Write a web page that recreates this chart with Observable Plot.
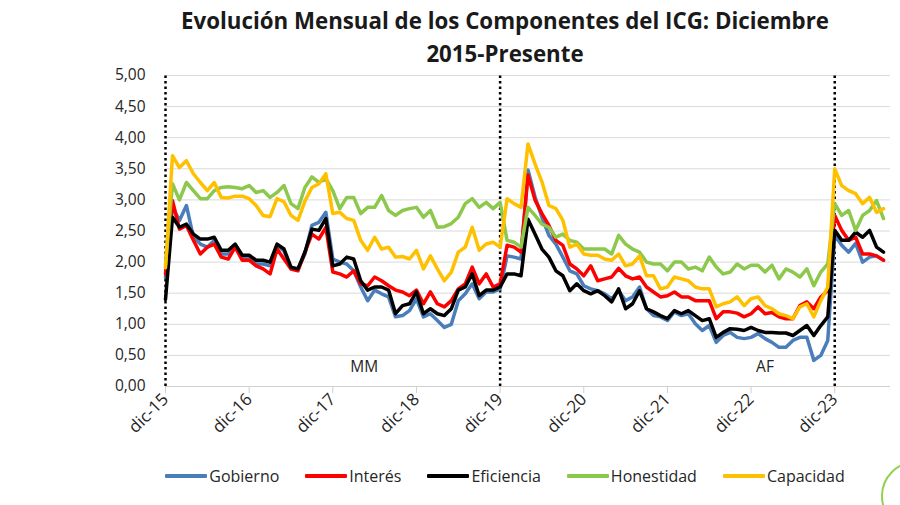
<!DOCTYPE html>
<html><head><meta charset="utf-8">
<script src="https://cdn.jsdelivr.net/npm/d3@7"></script>
<script src="https://cdn.jsdelivr.net/npm/@observablehq/plot@0.6"></script>
<style>
html,body{margin:0;padding:0;background:#fff;width:900px;height:505px;overflow:hidden;font-family:"Open Sans",Lato,sans-serif;}
#wrap{position:relative;width:900px;height:505px;overflow:hidden;}
#title{position:absolute;left:110px;top:4px;width:790px;text-align:center;font-weight:700;font-size:22.3px;line-height:33px;color:#1a1a1a;z-index:2;}
#chart{position:absolute;left:0;top:55px;}
#chart svg{overflow:visible;}
#legend{position:absolute;left:110px;width:790px;top:465px;display:flex;justify-content:center;gap:26px;font-size:16px;color:#262626;line-height:22px;}
.item{display:flex;align-items:center;}
.sw{width:42px;height:4px;margin-right:2px;border-radius:1px;}
#deco{position:absolute;left:881px;top:461px;width:66px;height:66px;border:2px solid #92D050;border-radius:50%;}
</style></head>
<body><div id="wrap">
<div id="chart"></div>
<div id="title">Evolución Mensual de los Componentes del ICG: Diciembre<br>2015-Presente</div>
<div id="legend"></div>
<div id="deco"></div>
</div>
<script>
const seriesNames = ["Gobierno","Interés","Eficiencia","Honestidad","Capacidad"];
const seriesColors = ["#4A7EBB","#FF0000","#000000","#8CC84B","#FFC000"];
const tickLabels = ["dic-15","dic-16","dic-17","dic-18","dic-19","dic-20","dic-21","dic-22","dic-23"];
const yTicks = [0,0.5,1,1.5,2,2.5,3,3.5,4,4.5,5];
const periodMarks = [0,48,96];
const periodLabels = [{label:"MM",i:28.5,v:0.32},{label:"AF",i:86,v:0.32}];

const gobierno = [1.75,2.88,2.67,2.91,2.40,2.29,2.24,2.35,2.13,2.13,2.27,2.08,2.05,1.97,1.97,1.94,2.27,2.18,1.89,1.89,2.13,2.59,2.64,2.80,2.05,2.00,1.97,1.86,1.60,1.38,1.55,1.49,1.44,1.12,1.14,1.22,1.41,1.12,1.17,1.06,0.95,1.00,1.38,1.49,1.65,1.41,1.52,1.52,1.57,2.10,2.08,2.05,3.48,3.05,2.72,2.43,2.29,2.08,1.86,1.81,1.62,1.57,1.54,1.49,1.41,1.54,1.38,1.44,1.60,1.25,1.14,1.12,1.06,1.20,1.14,1.17,1.01,0.90,0.98,0.71,0.82,0.87,0.79,0.77,0.79,0.85,0.77,0.71,0.63,0.63,0.74,0.79,0.79,0.42,0.50,0.74,2.43,2.27,2.16,2.30,2.00,2.08,2.10,2.03];
const interes = [1.81,2.99,2.53,2.59,2.35,2.13,2.24,2.29,2.08,2.05,2.24,2.03,2.03,1.94,1.89,1.81,2.21,2.05,1.89,1.86,2.16,2.45,2.37,2.56,1.84,1.81,1.76,1.86,1.65,1.62,1.76,1.70,1.62,1.55,1.52,1.46,1.55,1.33,1.52,1.33,1.28,1.38,1.57,1.65,1.92,1.65,1.81,1.60,1.65,2.27,2.24,2.16,3.40,3.00,2.78,2.59,2.35,2.27,1.97,1.89,1.78,1.94,1.70,1.73,1.76,1.90,1.78,1.73,1.76,1.60,1.52,1.44,1.46,1.52,1.44,1.44,1.38,1.38,1.38,1.09,1.20,1.20,1.18,1.12,1.17,1.28,1.17,1.19,1.12,1.09,1.09,1.30,1.36,1.25,1.44,1.54,2.75,2.51,2.35,2.40,2.13,2.13,2.10,2.03];
const eficiencia = [1.40,2.72,2.56,2.61,2.45,2.37,2.37,2.40,2.19,2.19,2.29,2.11,2.11,2.03,2.03,2.00,2.29,2.21,1.92,1.89,2.16,2.53,2.51,2.70,1.94,1.97,2.08,2.05,1.70,1.55,1.60,1.60,1.55,1.17,1.30,1.33,1.52,1.17,1.25,1.17,1.14,1.25,1.55,1.60,1.81,1.46,1.55,1.55,1.60,1.81,1.81,1.78,2.69,2.45,2.21,2.08,1.86,1.78,1.54,1.65,1.54,1.49,1.54,1.46,1.36,1.57,1.25,1.33,1.54,1.25,1.20,1.14,1.09,1.22,1.17,1.22,1.14,1.06,1.09,0.79,0.87,0.93,0.92,0.90,0.95,0.90,0.87,0.87,0.86,0.86,0.82,0.90,0.98,0.82,0.98,1.12,2.51,2.35,2.35,2.48,2.40,2.51,2.24,2.16];
const honestidad = [1.95,3.26,3.00,3.28,3.15,3.02,3.02,3.15,3.20,3.21,3.20,3.18,3.23,3.12,3.15,3.04,3.12,3.23,2.94,2.86,3.20,3.37,3.28,3.34,3.15,2.86,3.04,3.04,2.78,2.88,2.88,3.07,2.83,2.75,2.83,2.86,2.88,2.72,2.83,2.56,2.57,2.62,2.72,2.94,3.02,2.88,2.96,2.86,2.96,2.35,2.32,2.24,2.88,2.75,2.61,2.56,2.40,2.45,2.35,2.32,2.21,2.21,2.21,2.21,2.13,2.43,2.29,2.21,2.16,2.00,1.97,1.97,1.86,2.00,2.00,1.89,1.92,1.86,2.08,1.92,1.81,1.84,1.97,1.89,1.95,1.95,1.84,1.95,1.73,1.89,1.84,1.76,1.89,1.62,1.84,1.97,2.94,2.75,2.83,2.51,2.75,2.83,2.99,2.70];
const capacidad = [1.91,3.71,3.52,3.63,3.42,3.28,3.15,3.28,3.04,3.03,3.06,3.06,3.02,2.91,2.75,2.73,3.02,2.97,2.75,2.67,2.98,3.20,3.26,3.42,2.78,2.80,2.70,2.67,2.35,2.19,2.40,2.21,2.24,2.08,2.09,2.05,2.19,1.89,2.10,1.89,1.70,1.84,2.16,2.24,2.56,2.19,2.29,2.32,2.24,3.02,2.94,2.88,3.90,3.58,3.29,2.91,2.86,2.67,2.24,2.29,2.13,2.11,2.11,2.05,2.03,2.13,1.94,1.97,2.10,1.78,1.78,1.57,1.60,1.76,1.73,1.70,1.60,1.57,1.57,1.28,1.33,1.36,1.44,1.30,1.41,1.44,1.30,1.25,1.17,1.14,1.09,1.28,1.33,1.12,1.38,1.60,3.50,3.23,3.15,3.10,2.94,3.04,2.80,2.86];

const seriesValues = [gobierno, interes, eficiencia, honestidad, capacidad];
const rows = seriesNames.flatMap((name, k) => seriesValues[k].map((v, i) => ({name, i, v})));
const tickPos = tickLabels.map((_, k) => k * 12);
const fmt = v => d3.format(".2f")(v).replace(".", ",");
const FONT = "'Open Sans', Lato, sans-serif";

const chart = Plot.plot({
  width: 900, height: 401,
  marginLeft: 165, marginRight: 10, marginTop: 20, marginBottom: 70,
  style: {fontFamily: FONT, background: "transparent", overflow: "visible"},
  x: {type: "linear", domain: [0, 104], label: null},
  y: {domain: [0, 5], label: null},
  color: {domain: seriesNames, range: seriesColors},
  marks: [
    Plot.gridY(yTicks, {stroke: "#d9d9d9", strokeOpacity: 1, strokeWidth: 1}),
    Plot.ruleY([0], {stroke: "#d0d0d0", strokeWidth: 1}),
    Plot.axisY(yTicks, {tickSize: 0, tickPadding: 20, tickFormat: fmt, fontSize: 15.5, fill: "#262626", label: null}),
    Plot.axisX(tickPos, {tickSize: 7, stroke: "#d0d0d0", tickRotate: -45, tickPadding: 3, tickFormat: i => tickLabels[i / 12], fontSize: 17, fill: "#262626", label: null}),
    Plot.ruleX(periodMarks, {y1: 0, y2: 5, stroke: "#000", strokeWidth: 2.5, strokeDasharray: "2.5,3"}),
    Plot.line(rows, {x: "i", y: "v", z: "name", stroke: "name", strokeWidth: 3.5, strokeLinejoin: "round", strokeLinecap: "round"}),
    Plot.text(periodLabels, {x: "i", y: "v", text: "label", fontSize: 15.5, fill: "#262626"})
  ]
});
document.getElementById("chart").appendChild(chart);

const legend = document.getElementById("legend");
seriesNames.forEach((n, k) => {
  const it = document.createElement("div"); it.className = "item";
  const sw = document.createElement("div"); sw.className = "sw"; sw.style.background = seriesColors[k];
  const tx = document.createElement("span"); tx.textContent = n;
  it.appendChild(sw); it.appendChild(tx); legend.appendChild(it);
});
</script>
</body></html>
